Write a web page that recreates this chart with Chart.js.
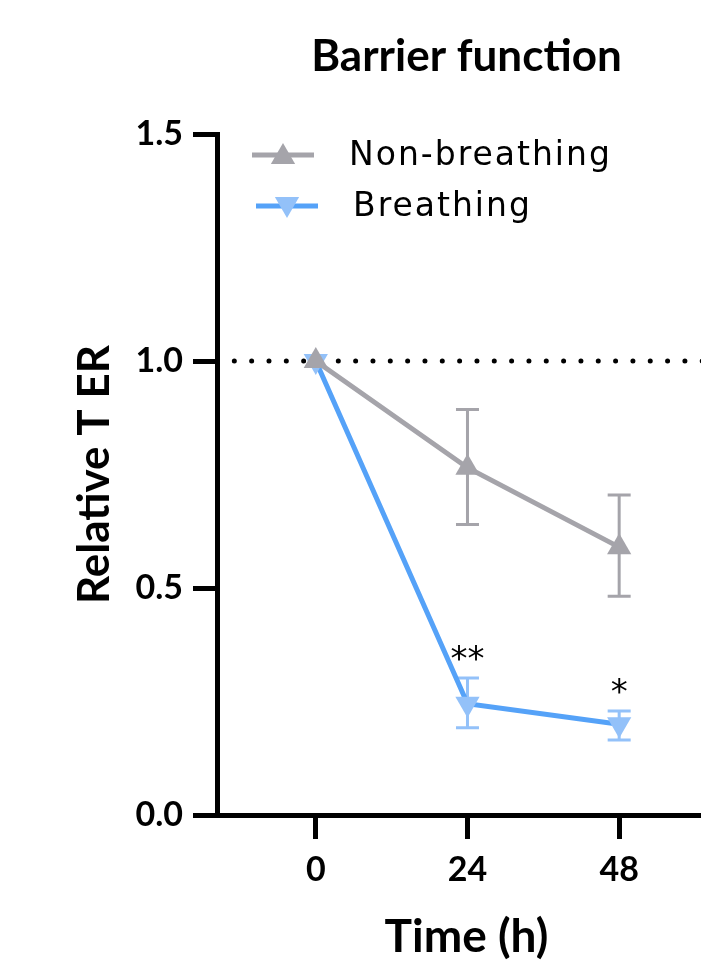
<!DOCTYPE html>
<html>
<head>
<meta charset="utf-8">
<title>Barrier function</title>
<script src="https://cdn.jsdelivr.net/npm/chart.js@4.4.1/dist/chart.umd.min.js"></script>
<style>
    html, body { margin: 0; padding: 0; background: #fff; overflow: hidden; }
    #wrap { width: 701px; height: 960px; overflow: hidden; }
</style>
</head>
<body>
<div id="wrap"><canvas id="teerChart" width="730" height="960"></canvas></div>
<script>
// values (mean, lower / upper end of error bar)
const timePoints = [0, 24, 48];
const nonBreathing = [1.0, 0.765, 0.59];
const nonBreathingLow = [1.0, 0.64, 0.482];
const nonBreathingHigh = [1.0, 0.893, 0.705];
const breathing = [1.0, 0.245, 0.2];
const breathingLow = [1.0, 0.192, 0.165];
const breathingHigh = [1.0, 0.302, 0.229];
const significance = ['', '**', '*'];
const xTicks = [0, 24, 48];
const yTicks = [0, 0.5, 1.0, 1.5];
const baseline = 1.0;

const GRAY = '#A5A4AA';
const BLUE = '#55A2F8';
const LIGHT_BLUE = '#93C1F9';
const FONT = 'Lato, "DejaVu Sans", sans-serif';
const LIGHT_FONT = '"DejaVu Sans", sans-serif';

function toPoints(ys) {
    return timePoints.map((t, i) => ({ x: t, y: ys[i] }));
}

// dotted reference line at baseline
const refLinePlugin = {
    id: 'refLine',
    beforeDatasetsDraw(chart) {
        const ctx = chart.ctx;
        const area = chart.chartArea;
        const y = chart.scales.y.getPixelForValue(baseline);
        ctx.save();
        ctx.strokeStyle = '#000';
        ctx.lineWidth = 5;
        ctx.lineCap = 'round';
        ctx.setLineDash([0, 17.33]);
        ctx.beginPath();
        ctx.moveTo(area.left, y);
        ctx.lineTo(area.right, y);
        ctx.stroke();
        ctx.restore();
    }
};

// vertical error bars with caps
const errorBarPlugin = {
    id: 'errorBars',
    beforeDatasetsDraw(chart) {
        const ctx = chart.ctx;
        const xs = chart.scales.x, ys = chart.scales.y;
        ctx.save();
        chart.data.datasets.forEach(ds => {
            if (!ds.errLow) return;
            ctx.strokeStyle = ds.errColor;
            ctx.lineWidth = 3;
            timePoints.forEach((t, i) => {
                if (ds.errLow[i] === ds.errHigh[i]) return;
                const x = xs.getPixelForValue(t);
                const yl = ys.getPixelForValue(ds.errLow[i]);
                const yh = ys.getPixelForValue(ds.errHigh[i]);
                ctx.beginPath();
                ctx.moveTo(x, yl); ctx.lineTo(x, yh);
                ctx.moveTo(x - 11.5, yl); ctx.lineTo(x + 11.5, yl);
                ctx.moveTo(x - 11.5, yh); ctx.lineTo(x + 11.5, yh);
                ctx.stroke();
            });
        });
        ctx.restore();
    }
};

// significance stars above the breathing points
const starsPlugin = {
    id: 'stars',
    afterDatasetsDraw(chart) {
        const ctx = chart.ctx;
        const xs = chart.scales.x, ys = chart.scales.y;
        ctx.save();
        ctx.fillStyle = '#000';
        ctx.font = '34px ' + LIGHT_FONT;
        ctx.textAlign = 'center';
        ctx.textBaseline = 'alphabetic';
        significance.forEach((s, i) => {
            if (!s) return;
            const x = xs.getPixelForValue(timePoints[i]);
            const y = ys.getPixelForValue(breathingHigh[i]) - 8;
            ctx.fillText(s, x, y);
        });
        ctx.restore();
    }
};

// legend: line segment + marker + label
const legendPlugin = {
    id: 'lineLegend',
    afterDraw(chart) {
        const ctx = chart.ctx;
        const area = chart.chartArea;
        ctx.save();
        chart.data.datasets.forEach((ds, i) => {
            const y = area.top + 21 + i * 51;
            const x0 = area.left + 35 + i * 4;
            ctx.strokeStyle = ds.borderColor;
            ctx.lineWidth = 5;
            ctx.beginPath();
            ctx.moveTo(x0, y);
            ctx.lineTo(x0 + 62, y);
            ctx.stroke();
            ctx.fillStyle = ds.pointBackgroundColor;
            Chart.helpers.drawPoint(ctx, {
                pointStyle: 'triangle',
                rotation: ds.pointRotation,
                radius: 14,
                borderWidth: 0
            }, x0 + 31, y + (ds.pointRotation ? -2 : 2));
            ctx.fillStyle = '#000';
            ctx.font = '33px ' + LIGHT_FONT;
            ctx.letterSpacing = '2px';
            ctx.textAlign = 'left';
            ctx.textBaseline = 'middle';
            ctx.fillText(ds.label, x0 + 97, y + 1);
            ctx.letterSpacing = '0px';
        });
        ctx.restore();
    }
};

const ctx = document.getElementById('teerChart').getContext('2d');
new Chart(ctx, {
    type: 'line',
    data: {
        datasets: [
            {
                label: 'Non-breathing',
                data: toPoints(nonBreathing),
                errLow: nonBreathingLow,
                errHigh: nonBreathingHigh,
                errColor: GRAY,
                borderColor: GRAY,
                borderWidth: 5,
                pointStyle: 'triangle',
                pointRadius: 14,
                pointRotation: 0,
                pointBackgroundColor: GRAY,
                pointBorderWidth: 0
            },
            {
                label: 'Breathing',
                data: toPoints(breathing),
                errLow: breathingLow,
                errHigh: breathingHigh,
                errColor: LIGHT_BLUE,
                borderColor: BLUE,
                borderWidth: 5,
                pointStyle: 'triangle',
                pointRadius: 14,
                pointRotation: 180,
                pointBackgroundColor: LIGHT_BLUE,
                pointBorderWidth: 0
            }
        ]
    },
    options: {
        responsive: false,
        animation: false,
        layout: { padding: 0 },
        plugins: {
            legend: { display: false },
            tooltip: { enabled: false },
            title: {
                display: true,
                text: 'Barrier function',
                fullSize: false,
                color: '#000',
                font: { family: FONT, size: 44, weight: 'bold', lineHeight: 1 },
                padding: { top: 35, bottom: 55 }
            }
        },
        scales: {
            x: {
                type: 'linear',
                min: -15.63,
                max: 63.32,
                afterBuildTicks: s => { s.ticks = xTicks.map(v => ({ value: v })); },
                afterFit: s => { s.height = 145; },
                border: { display: true, width: 5, color: '#000' },
                grid: { drawOnChartArea: false, drawTicks: true, tickLength: 24, tickWidth: 5, tickColor: '#000' },
                ticks: { color: '#000', padding: 11, font: { family: FONT, size: 34, weight: 'bold' } },
                title: {
                    display: true,
                    text: 'Time (h)',
                    color: '#000',
                    font: { family: FONT, size: 46, weight: 'bold', lineHeight: 1 },
                    padding: { top: 0, bottom: 0 }
                }
            },
            y: {
                min: 0,
                max: 1.5,
                afterBuildTicks: s => { s.ticks = yTicks.map(v => ({ value: v })); },
                afterFit: s => { s.width = 217; },
                border: { display: true, width: 5, color: '#000' },
                grid: { drawOnChartArea: false, drawTicks: true, tickLength: 24, tickWidth: 5, tickColor: '#000' },
                ticks: {
                    color: '#000',
                    padding: 10,
                    font: { family: FONT, size: 34, weight: 'bold' },
                    callback: v => v.toFixed(1)
                },
                title: {
                    display: true,
                    text: 'Relative T ER',
                    color: '#000',
                    font: { family: FONT, size: 44, weight: 'bold', lineHeight: 1 },
                    padding: { top: 73, bottom: 0 }
                }
            }
        }
    },
    plugins: [refLinePlugin, errorBarPlugin, starsPlugin, legendPlugin]
});
</script>
</body>
</html>
